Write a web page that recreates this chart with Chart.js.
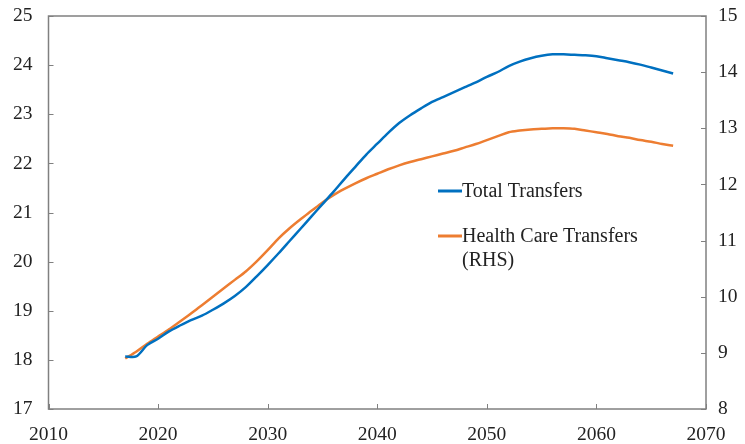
<!DOCTYPE html>
<html>
<head>
<meta charset="utf-8">
<script src="https://cdn.jsdelivr.net/npm/chart.js@4"></script>
<style>
  html, body { margin: 0; padding: 0; background: #fff; }
  #wrap { width: 745px; height: 444px; position: relative; }
</style>
</head>
<body>
<div id="wrap"><canvas id="chart" width="745" height="444"></canvas></div>
<script>
// data
const years = [];
for (let y = 2017; y <= 2067; y++) years.push(y);

const totalTransfers = [
  18.07, 18.07, 18.30, 18.43, 18.58, 18.70, 18.81, 18.90, 19.02, 19.15,
  19.30, 19.48, 19.70, 19.93, 20.17, 20.42, 20.67, 20.92, 21.17, 21.42,
  21.68, 21.93, 22.18, 22.40, 22.62, 22.82, 22.98, 23.12, 23.25, 23.35,
  23.45, 23.55, 23.65, 23.76, 23.86, 23.98, 24.07, 24.14, 24.19, 24.22,
  24.22, 24.21, 24.20, 24.18, 24.14, 24.10, 24.06, 24.01, 23.95, 23.89,
  23.83
];

const healthCareTransfers = [
  8.90, 9.02, 9.16, 9.29, 9.42, 9.56, 9.70, 9.85, 10.00, 10.15,
  10.30, 10.45, 10.63, 10.83, 11.04, 11.22, 11.38, 11.53, 11.68, 11.81,
  11.92, 12.02, 12.11, 12.19, 12.27, 12.34, 12.40, 12.45, 12.50, 12.55,
  12.60, 12.66, 12.72, 12.79, 12.86, 12.93, 12.96, 12.98, 12.99, 13.00,
  13.00, 12.99, 12.96, 12.93, 12.90, 12.86, 12.83, 12.79, 12.76, 12.72,
  12.69
];

const seriesNames = ['Total Transfers', 'Health Care Transfers', '(RHS)'];
const xTicks = { min: 2010, max: 2070, step: 10 };
const leftTicks = { min: 17, max: 25, step: 1 };
const rightTicks = { min: 8, max: 15, step: 1 };

const BLUE = '#0070C0';
const ORANGE = '#ED7D31';
const FONT = '"Liberation Serif", "Times New Roman", serif';

// fixed axis sizes, no extra label overhang padding
const fixSize = (w, h) => s => {
  if (w !== null) s.width = w;
  if (h !== null) s.height = h;
  s.paddingTop = 0; s.paddingBottom = 0;
  s.paddingLeft = 0; s.paddingRight = 0;
};

// frame + inside tick marks + legend
const framePlugin = {
  id: 'frame',
  afterDraw(chart) {
    const ctx = chart.ctx;
    const a = chart.chartArea;
    ctx.save();
    ctx.strokeStyle = '#808080';
    ctx.lineWidth = 1.5;
    ctx.strokeRect(a.left, a.top, a.right - a.left, a.bottom - a.top);

    ctx.lineWidth = 1;
    ctx.beginPath();
    chart.scales.x.ticks.forEach(t => {
      const px = Math.round(chart.scales.x.getPixelForValue(t.value)) + 0.5;
      ctx.moveTo(px, a.bottom);
      ctx.lineTo(px, a.bottom - 5);
    });
    chart.scales.y.ticks.forEach(t => {
      const py = Math.round(chart.scales.y.getPixelForValue(t.value)) + 0.5;
      ctx.moveTo(a.left, py);
      ctx.lineTo(a.left + 5, py);
    });
    chart.scales.y2.ticks.forEach(t => {
      const py = Math.round(chart.scales.y2.getPixelForValue(t.value)) + 0.5;
      ctx.moveTo(a.right, py);
      ctx.lineTo(a.right - 5, py);
    });
    ctx.stroke();

    // legend
    ctx.font = '20px ' + FONT;
    ctx.fillStyle = '#222';
    ctx.textBaseline = 'middle';
    ctx.lineWidth = 3;
    ctx.strokeStyle = BLUE;
    ctx.beginPath(); ctx.moveTo(438, 191); ctx.lineTo(462, 191); ctx.stroke();
    ctx.fillText(seriesNames[0], 462, 192);
    ctx.strokeStyle = ORANGE;
    ctx.beginPath(); ctx.moveTo(438, 236); ctx.lineTo(462, 236); ctx.stroke();
    ctx.fillText(seriesNames[1], 462, 237);
    ctx.fillText(seriesNames[2], 462, 261);
    ctx.restore();
  }
};

new Chart(document.getElementById('chart'), {
  type: 'line',
  data: {
    datasets: [
      {
        label: seriesNames[0],
        data: years.map((y, i) => ({ x: y, y: totalTransfers[i] })),
        borderColor: BLUE,
        borderWidth: 2.5,
        pointRadius: 0,
        tension: 0.3,
        yAxisID: 'y'
      },
      {
        label: seriesNames[1] + ' ' + seriesNames[2],
        data: years.map((y, i) => ({ x: y, y: healthCareTransfers[i] })),
        borderColor: ORANGE,
        borderWidth: 2.5,
        pointRadius: 0,
        tension: 0.3,
        yAxisID: 'y2'
      }
    ]
  },
  options: {
    responsive: false,
    animation: false,
    layout: { padding: { top: 16, left: 0, right: 0, bottom: 0 } },
    plugins: {
      legend: { display: false },
      tooltip: { enabled: false }
    },
    scales: {
      x: {
        type: 'linear',
        min: xTicks.min,
        max: xTicks.max,
        afterFit: fixSize(null, 35),
        grid: { display: false },
        border: { display: false },
        ticks: {
          stepSize: xTicks.step,
          padding: 6,
          color: '#222',
          font: { family: FONT, size: 19.5 },
          callback: v => String(v),
          maxRotation: 0
        }
      },
      y: {
        position: 'left',
        min: leftTicks.min,
        max: leftTicks.max,
        afterFit: fixSize(48.5, null),
        grid: { display: false },
        border: { display: false },
        ticks: {
          stepSize: leftTicks.step,
          padding: 8,
          color: '#222',
          font: { family: FONT, size: 19.5 }
        }
      },
      y2: {
        position: 'right',
        min: rightTicks.min,
        max: rightTicks.max,
        afterFit: fixSize(39, null),
        grid: { display: false },
        border: { display: false },
        ticks: {
          stepSize: rightTicks.step,
          padding: 4,
          color: '#222',
          font: { family: FONT, size: 19.5 }
        }
      }
    }
  },
  plugins: [framePlugin]
});
</script>
</body>
</html>
